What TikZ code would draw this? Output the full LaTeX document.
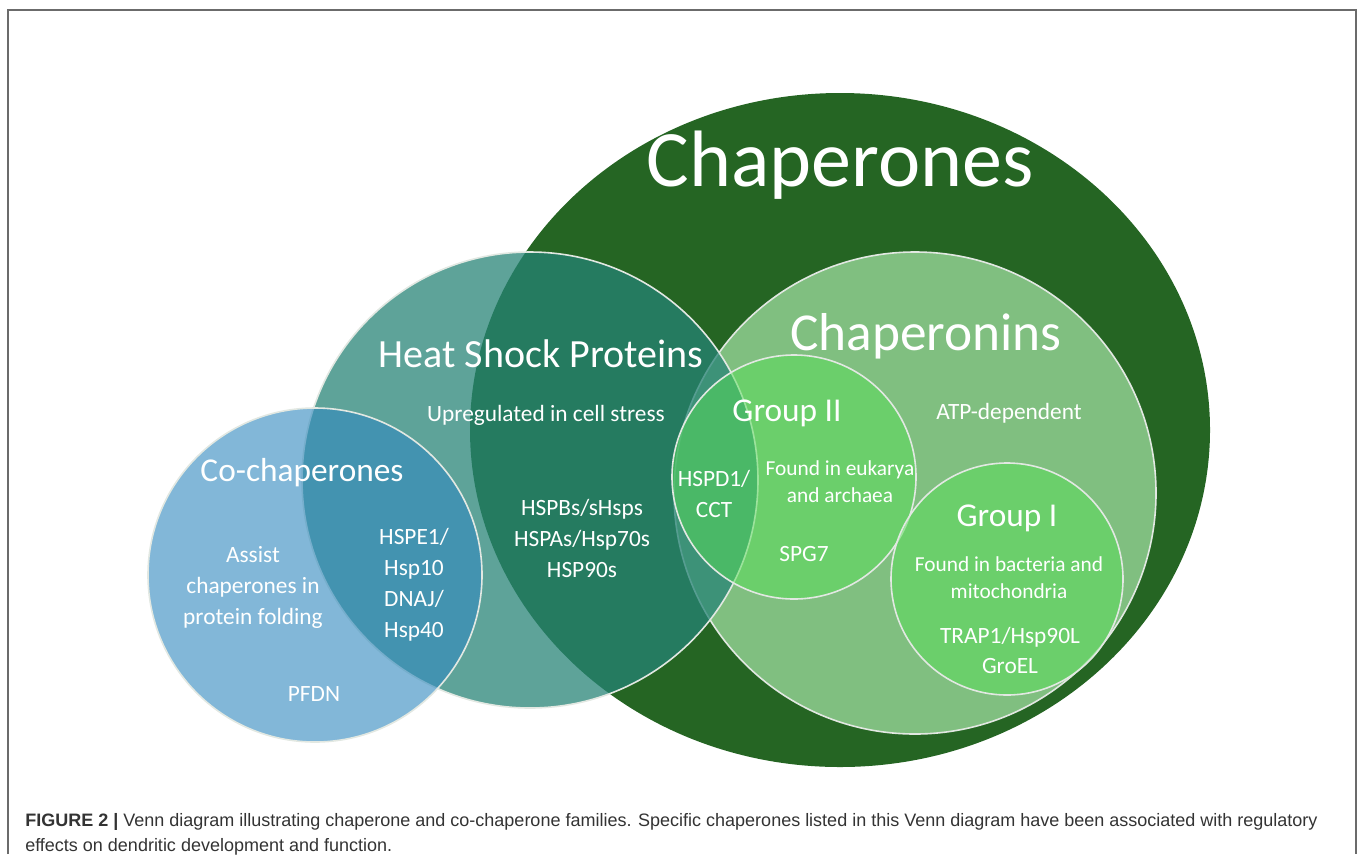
\documentclass[tikz,border=0pt]{standalone}
\usepackage{fontspec}
\setmainfont{Carlito}
\newfontfamily\capfont{Liberation Sans}
\usetikzlibrary{positioning}

\definecolor{chapgreen}{HTML}{256523}
\definecolor{ninsgreen}{HTML}{80BF80}
\definecolor{hspteal}{HTML}{268376}
\definecolor{groupgreen}{HTML}{58DF58}
\definecolor{coblue}{HTML}{328ABF}
\definecolor{rimgray}{HTML}{E2E8E2}
\definecolor{framegray}{HTML}{6B6B6B}
\definecolor{capgray}{HTML}{333333}

\tikzset{
	rim/.style={draw=rimgray, line width=1.2pt},
	setname/.style={text=white, inner sep=0pt, anchor=base, align=center,
		font=\fontsize{#1}{#1}\selectfont},
	itemtxt/.style={text=white, inner sep=0pt, anchor=base, align=center,
		font=\fontsize{17.5}{23.25}\selectfont},
	notetxt/.style={text=white, inner sep=0pt, anchor=base, align=center,
		font=\fontsize{16}{20}\selectfont},
	capnote/.style={text=capgray, inner sep=0pt, anchor=base west, align=left,
		font=\capfont\fontsize{13.5}{18.75}\selectfont},
}

\begin{document}
\begin{tikzpicture}[x=0.75pt,y=-0.75pt]
	\useasboundingbox (0,0) rectangle (1358,854);
	% frame
	\draw[framegray, line width=1.1pt] (8,854) -- (8,10) -- (1356,10) -- (1356,854);
	%
	% sets
	\fill[chapgreen] (840,430) ellipse (370 and 337);
	\filldraw[rim, fill=ninsgreen] (915,493) circle (241);
	\filldraw[rim, fill=hspteal, fill opacity=0.74] (530,480) circle (228);
	\filldraw[rim, fill=groupgreen, fill opacity=0.5] (794,477) circle (122);
	\filldraw[rim, fill=groupgreen, fill opacity=0.5] (1007,579) circle (116);
	\filldraw[rim, fill=coblue, fill opacity=0.61] (315,575) circle (167);
	%
	% set names
	\node[setname=60] (chap) at (840,186) {Chaperones};
	\node[setname=40] (nins) at (926,350) {Chaperonins};
	\node[setname=30] (hsp) at (541,367) {Heat Shock Proteins};
	\node[setname=25] (co) at (302,481) {Co-chaperones};
	\node[setname=25] (g2) at (787,421) {Group II};
	\node[setname=25] (g1) at (1007,526) {Group I};
	%
	% members (multi-line texts sit on their last line)
	\node[itemtxt] (stress) at (546,421) {Upregulated in cell stress};
	\node[itemtxt] (hspmem) at (582,577) {HSPBs/sHsps\\HSPAs/Hsp70s\\HSP90s};
	\node[itemtxt] (assist) at (253,624) {Assist\\chaperones in\\protein folding};
	\node[itemtxt] (pfdn) at (314,701) {PFDN};
	\node[itemtxt] (comem) at (414,637) {HSPE1/\\Hsp10\\DNAJ/\\Hsp40};
	\node[itemtxt] (atp) at (1009,419) {ATP-dependent};
	\node[itemtxt] (cct) at (714,517) {HSPD1/\\CCT};
	\node[notetxt] (euk) at (840,502) {Found in eukarya\\and archaea};
	\node[itemtxt] (spg) at (804,561) {SPG7};
	\node[notetxt] (bact) at (1009,598) {Found in bacteria and\\mitochondria};
	\node[itemtxt, font=\fontsize{17.5}{22.5}\selectfont] (g1mem) at (1010,673) {TRAP1/Hsp90L\\GroEL};
	%
	% caption
	\node[capnote] (cap) at (25,851) {\textbf{FIGURE 2 |} Venn diagram illustrating chaperone and co-chaperone families. Specific chaperones listed in this Venn diagram have been associated with regulatory\\effects on dendritic development and function.};
\end{tikzpicture}
\end{document}
